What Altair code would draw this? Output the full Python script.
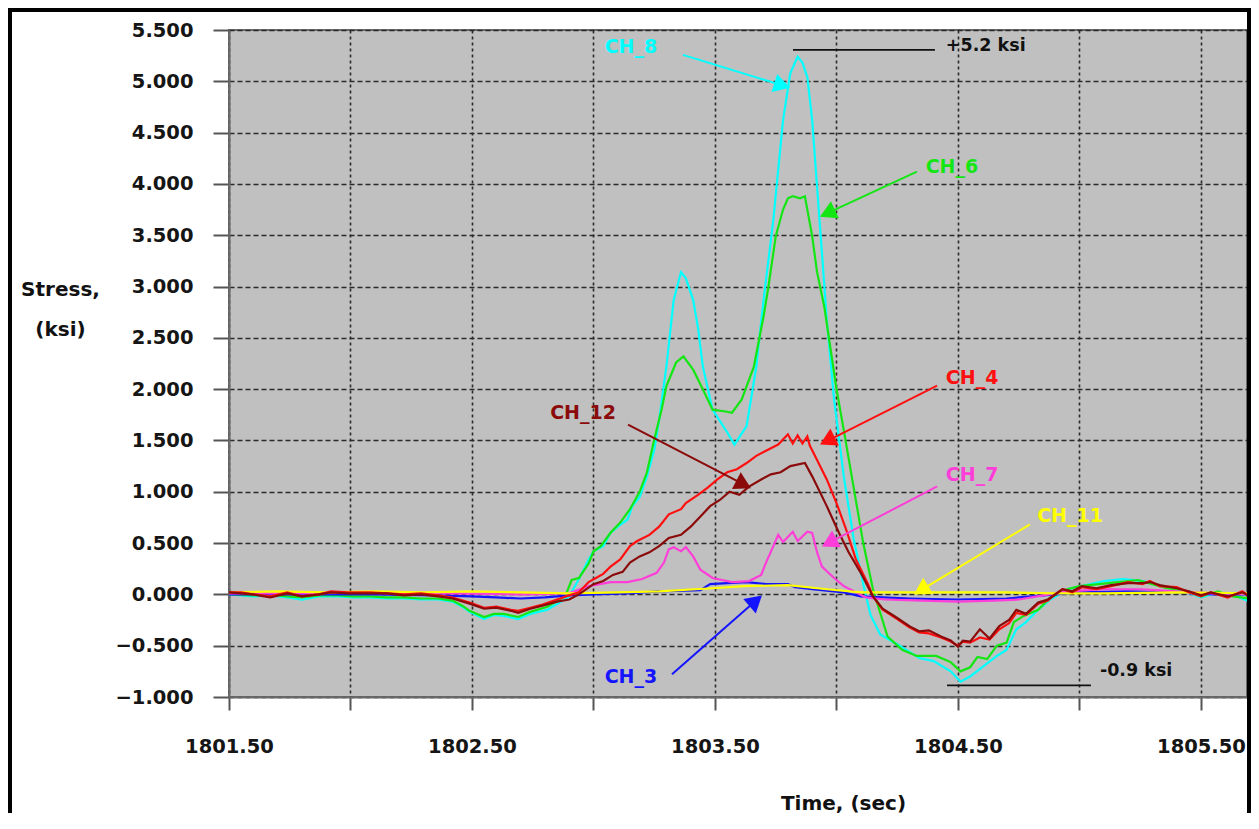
import math
import altair as alt
import pandas as pd

# ---------------- axes ----------------
W, H = 1018, 667
T_MIN = 1801.5
T_MAX = 1801.5 + W / 243.0
V_MIN, V_MAX = -1.0, 5.5

x_ticks = [1801.5, 1802.0, 1802.5, 1803.0, 1803.5, 1804.0, 1804.5, 1805.0, 1805.5]
y_ticks = [-1.0, -0.5, 0.0, 0.5, 1.0, 1.5, 2.0, 2.5, 3.0, 3.5, 4.0, 4.5, 5.0, 5.5]

# ---------------- series (drawing order) ----------------
channels = ["CH_8", "CH_6", "CH_3", "CH_7", "CH_11", "CH_4", "CH_12"]
colors = ["#00FFFF", "#14E614", "#1414FF", "#FF3DD8", "#FFFF00", "#FF1010", "#8B0A0A"]

ch8_t = [1801.50, 1801.60, 1801.67, 1801.74, 1801.80, 1801.87, 1801.95, 1802.01, 1802.08, 1802.15,
         1802.22, 1802.29, 1802.36, 1802.42, 1802.46, 1802.49, 1802.55, 1802.59, 1802.63, 1802.69,
         1802.74, 1802.81, 1802.86, 1802.90, 1802.94, 1802.98, 1803.00, 1803.04, 1803.07, 1803.10,
         1803.14, 1803.16, 1803.19, 1803.22, 1803.25, 1803.27, 1803.30, 1803.33, 1803.36, 1803.38,
         1803.41, 1803.43, 1803.45, 1803.49, 1803.55, 1803.58, 1803.63, 1803.67, 1803.70, 1803.74,
         1803.78, 1803.81, 1803.84, 1803.86, 1803.88, 1803.90, 1803.92, 1803.94, 1803.96, 1803.99,
         1804.03, 1804.07, 1804.11, 1804.14, 1804.18, 1804.26, 1804.34, 1804.40, 1804.47, 1804.51,
         1804.55, 1804.60, 1804.66, 1804.70, 1804.74, 1804.78, 1804.83, 1804.88, 1804.95, 1805.01,
         1805.10, 1805.18, 1805.26, 1805.36, 1805.43, 1805.50, 1805.57, 1805.63, 1805.70, 1805.72]
ch8_v = [0.00, -0.02, -0.01, -0.03, -0.05, -0.02, -0.02, -0.03, -0.03, -0.04,
         -0.04, -0.05, -0.05, -0.07, -0.12, -0.17, -0.24, -0.20, -0.21, -0.24,
         -0.19, -0.15, -0.08, -0.02, 0.15, 0.34, 0.42, 0.47, 0.60, 0.66,
         0.73, 0.86, 0.95, 1.15, 1.41, 1.70, 2.22, 2.87, 3.14, 3.08,
         2.87, 2.60, 2.22, 1.80, 1.58, 1.46, 1.64, 2.22, 2.87, 3.65,
         4.62, 5.08, 5.24, 5.18, 5.04, 4.62, 3.97, 3.33, 2.68, 1.90,
         1.15, 0.55, 0.10, -0.20, -0.39, -0.50, -0.62, -0.65, -0.75, -0.85,
         -0.80, -0.71, -0.60, -0.54, -0.34, -0.27, -0.15, -0.05, 0.05, 0.08,
         0.13, 0.15, 0.13, 0.07, 0.03, -0.03, 0.02, 0.00, -0.07, -0.08]

ch6_t = [1801.50, 1801.60, 1801.67, 1801.74, 1801.80, 1801.87, 1801.95, 1802.01, 1802.08, 1802.15,
         1802.22, 1802.29, 1802.36, 1802.42, 1802.46, 1802.49, 1802.55, 1802.59, 1802.63, 1802.69,
         1802.74, 1802.81, 1802.86, 1802.89, 1802.91, 1802.94, 1802.98, 1803.00, 1803.03, 1803.07,
         1803.11, 1803.15, 1803.19, 1803.22, 1803.25, 1803.28, 1803.30, 1803.34, 1803.37, 1803.41,
         1803.45, 1803.49, 1803.55, 1803.57, 1803.61, 1803.66, 1803.70, 1803.72, 1803.75, 1803.78,
         1803.80, 1803.82, 1803.85, 1803.87, 1803.88, 1803.90, 1803.92, 1803.95, 1804.00, 1804.03,
         1804.07, 1804.11, 1804.15, 1804.18, 1804.21, 1804.27, 1804.33, 1804.41, 1804.47, 1804.51,
         1804.55, 1804.58, 1804.62, 1804.66, 1804.70, 1804.73, 1804.77, 1804.83, 1804.88, 1804.95,
         1805.00, 1805.08, 1805.16, 1805.24, 1805.30, 1805.36, 1805.43, 1805.50, 1805.57, 1805.63,
         1805.70, 1805.72]
ch6_v = [0.00, -0.01, 0.00, -0.02, -0.03, -0.01, -0.01, -0.02, -0.02, -0.03,
         -0.03, -0.04, -0.04, -0.06, -0.11, -0.16, -0.22, -0.19, -0.19, -0.22,
         -0.17, -0.12, -0.05, 0.02, 0.14, 0.16, 0.30, 0.42, 0.47, 0.60,
         0.70, 0.83, 1.00, 1.19, 1.51, 1.80, 2.03, 2.26, 2.32, 2.19,
         2.00, 1.80, 1.78, 1.77, 1.90, 2.22, 2.71, 3.00, 3.49, 3.75,
         3.86, 3.88, 3.86, 3.88, 3.75, 3.49, 3.14, 2.80, 2.00, 1.60,
         1.05, 0.50, 0.05, -0.18, -0.41, -0.54, -0.60, -0.60, -0.66, -0.75,
         -0.71, -0.61, -0.63, -0.50, -0.47, -0.27, -0.21, -0.15, -0.03, 0.05,
         0.08, 0.10, 0.12, 0.14, 0.10, 0.06, 0.04, -0.02, 0.03, -0.02,
         -0.04, -0.05]

ch4_t = [1801.50, 1801.55, 1801.60, 1801.67, 1801.74, 1801.80, 1801.87, 1801.92, 1801.99, 1802.08,
         1802.15, 1802.22, 1802.29, 1802.36, 1802.42, 1802.49, 1802.55, 1802.60, 1802.66, 1802.69,
         1802.74, 1802.79, 1802.85, 1802.90, 1802.94, 1802.98, 1803.01, 1803.04, 1803.07, 1803.11,
         1803.15, 1803.18, 1803.23, 1803.27, 1803.31, 1803.36, 1803.38, 1803.43, 1803.47, 1803.51,
         1803.55, 1803.59, 1803.63, 1803.67, 1803.71, 1803.76, 1803.80, 1803.82, 1803.84, 1803.86,
         1803.88, 1803.89, 1803.92, 1803.96, 1804.00, 1804.04, 1804.08, 1804.13, 1804.15, 1804.19,
         1804.25, 1804.30, 1804.34, 1804.38, 1804.43, 1804.47, 1804.50, 1804.52, 1804.55, 1804.59,
         1804.63, 1804.67, 1804.71, 1804.74, 1804.78, 1804.83, 1804.87, 1804.90, 1804.93, 1804.97,
         1805.01, 1805.07, 1805.13, 1805.20, 1805.26, 1805.29, 1805.33, 1805.40, 1805.45, 1805.50,
         1805.54, 1805.61, 1805.67, 1805.72]
ch4_v = [0.02, 0.02, 0.00, -0.02, 0.02, -0.02, 0.00, 0.03, 0.02, 0.02,
         0.01, 0.00, 0.01, -0.01, -0.03, -0.08, -0.13, -0.12, -0.15, -0.16,
         -0.13, -0.10, -0.05, -0.01, 0.02, 0.12, 0.16, 0.20, 0.27, 0.34,
         0.47, 0.52, 0.58, 0.66, 0.78, 0.83, 0.89, 0.97, 1.04, 1.12,
         1.19, 1.22, 1.28, 1.35, 1.40, 1.46, 1.56, 1.47, 1.55, 1.47,
         1.54, 1.45, 1.31, 1.12, 0.89, 0.63, 0.34, 0.10, -0.02, -0.15,
         -0.24, -0.32, -0.37, -0.38, -0.42, -0.46, -0.50, -0.46, -0.47, -0.42,
         -0.44, -0.34, -0.28, -0.18, -0.20, -0.09, -0.06, 0.00, 0.05, 0.02,
         0.07, 0.05, 0.08, 0.12, 0.10, 0.13, 0.08, 0.07, 0.02, -0.02,
         0.02, -0.03, 0.03, -0.05]

ch12_t = [1801.50, 1801.55, 1801.60, 1801.67, 1801.74, 1801.80, 1801.87, 1801.92, 1801.99, 1802.08,
          1802.15, 1802.22, 1802.29, 1802.36, 1802.42, 1802.49, 1802.55, 1802.60, 1802.66, 1802.69,
          1802.74, 1802.79, 1802.85, 1802.90, 1802.94, 1803.00, 1803.04, 1803.08, 1803.12, 1803.15,
          1803.19, 1803.23, 1803.27, 1803.31, 1803.36, 1803.40, 1803.44, 1803.48, 1803.52, 1803.56,
          1803.60, 1803.64, 1803.69, 1803.73, 1803.77, 1803.81, 1803.87, 1803.90, 1803.96, 1804.01,
          1804.05, 1804.10, 1804.15, 1804.19, 1804.25, 1804.30, 1804.34, 1804.38, 1804.43, 1804.47,
          1804.50, 1804.52, 1804.55, 1804.59, 1804.63, 1804.67, 1804.71, 1804.74, 1804.78, 1804.83,
          1804.87, 1804.90, 1804.93, 1804.97, 1805.01, 1805.07, 1805.13, 1805.20, 1805.26, 1805.29,
          1805.33, 1805.40, 1805.45, 1805.50, 1805.54, 1805.61, 1805.67, 1805.72]
ch12_v = [0.02, 0.01, 0.00, -0.03, 0.01, -0.02, 0.00, 0.02, 0.01, 0.01,
          0.01, -0.01, 0.00, -0.02, -0.04, -0.09, -0.14, -0.13, -0.16, -0.18,
          -0.14, -0.11, -0.07, -0.05, 0.00, 0.10, 0.13, 0.19, 0.22, 0.31,
          0.37, 0.41, 0.47, 0.55, 0.58, 0.66, 0.76, 0.86, 0.92, 1.00,
          0.97, 1.05, 1.12, 1.17, 1.19, 1.25, 1.28, 1.15, 0.86, 0.60,
          0.41, 0.21, -0.02, -0.14, -0.23, -0.31, -0.36, -0.35, -0.41, -0.45,
          -0.51, -0.45, -0.46, -0.34, -0.43, -0.31, -0.25, -0.15, -0.19, -0.08,
          -0.05, 0.00, 0.05, 0.03, 0.08, 0.06, 0.09, 0.11, 0.11, 0.12,
          0.09, 0.06, 0.03, -0.01, 0.02, -0.02, 0.02, -0.04]

ch7_t = [1801.50, 1801.80, 1802.10, 1802.40, 1802.70, 1802.90, 1802.98, 1803.07, 1803.14, 1803.20,
         1803.26, 1803.29, 1803.31, 1803.33, 1803.36, 1803.38, 1803.41, 1803.44, 1803.49, 1803.57,
         1803.64, 1803.69, 1803.71, 1803.74, 1803.76, 1803.78, 1803.82, 1803.84, 1803.88, 1803.90,
         1803.92, 1803.94, 1803.99, 1804.03, 1804.08, 1804.12, 1804.20, 1804.35, 1804.50, 1804.65,
         1804.75, 1804.85, 1804.95, 1805.10, 1805.25, 1805.40, 1805.55, 1805.72]
ch7_v = [0.01, 0.01, 0.02, 0.01, 0.00, 0.01, 0.08, 0.12, 0.12, 0.15,
         0.21, 0.31, 0.44, 0.46, 0.42, 0.46, 0.37, 0.24, 0.16, 0.12,
         0.13, 0.19, 0.31, 0.47, 0.58, 0.51, 0.61, 0.52, 0.61, 0.60,
         0.41, 0.27, 0.16, 0.08, 0.02, -0.03, -0.05, -0.06, -0.07, -0.06,
         -0.05, -0.01, 0.03, 0.05, 0.05, 0.03, 0.01, 0.00]

ch3_t = [1801.50, 1801.80, 1802.10, 1802.35, 1802.50, 1802.60, 1802.70, 1802.80, 1802.90, 1803.00,
         1803.14, 1803.27, 1803.44, 1803.48, 1803.55, 1803.63, 1803.71, 1803.80, 1803.83, 1803.90,
         1804.03, 1804.10, 1804.30, 1804.50, 1804.70, 1804.85, 1805.00, 1805.20, 1805.40, 1805.55,
         1805.72]
ch3_v = [0.00, 0.00, 0.00, -0.01, -0.02, -0.03, -0.04, -0.03, -0.01, 0.00,
         0.01, 0.03, 0.04, 0.10, 0.11, 0.12, 0.10, 0.10, 0.07, 0.05,
         0.02, -0.02, -0.04, -0.05, -0.04, -0.01, 0.02, 0.03, 0.02, 0.00,
         0.00]

ch11_t = [1801.50, 1801.70, 1801.90, 1802.10, 1802.30, 1802.50, 1802.70, 1802.90, 1803.10, 1803.27,
          1803.49, 1803.62, 1803.80, 1803.96, 1804.10, 1804.40, 1804.70, 1804.90, 1805.10, 1805.40,
          1805.72]
ch11_v = [0.02, 0.03, 0.02, 0.03, 0.02, 0.03, 0.02, 0.01, 0.02, 0.03,
          0.06, 0.08, 0.09, 0.05, 0.02, 0.02, 0.02, 0.01, 0.01, 0.02,
          0.01]

series = {
    "CH_8": (ch8_t, ch8_v), "CH_6": (ch6_t, ch6_v), "CH_3": (ch3_t, ch3_v),
    "CH_7": (ch7_t, ch7_v), "CH_11": (ch11_t, ch11_v), "CH_4": (ch4_t, ch4_v),
    "CH_12": (ch12_t, ch12_v),
}

# ---------------- labels and arrows (order = channels) ----------------
lab_t = [1803.154, 1804.475, 1803.154, 1804.558, 1804.961, 1804.558, 1802.957]
lab_v = [5.336, 4.167, -0.808, 1.168, 0.759, 2.113, 1.772]
arr_t0 = [1803.368, 1804.331, 1803.323, 1804.414, 1804.796, 1804.414, 1803.142]
arr_v0 = [5.258, 4.119, -0.779, 1.052, 0.682, 2.035, 1.655]
arr_t1 = [1803.809, 1803.932, 1803.693, 1803.940, 1804.319, 1803.932, 1803.648]
arr_v1 = [4.937, 3.681, -0.010, 0.467, 0.000, 1.461, 1.035]

# peak / valley annotations
ann_text = ["+5.2 ksi", "-0.9 ksi"]
ann_t0 = [1803.821, 1804.455]
ann_t1 = [1804.405, 1805.047]
ann_v = [5.307, -0.886]
ann_tt = [1804.450, 1805.084]
ann_tv = [5.340, -0.750]

# ---------------- styling ----------------
FONT = "DejaVu Sans"
HEAD_SIZE = 360
kx = W / (T_MAX - T_MIN)
ky = H / (V_MAX - V_MIN)
head_h = math.sqrt(3) * (math.sqrt(HEAD_SIZE) / 2) / 2

xscale = alt.Scale(domain=[T_MIN, T_MAX], nice=False, zero=False)
yscale = alt.Scale(domain=[V_MIN, V_MAX], nice=False, zero=False)

xaxis = alt.Axis(
    values=x_ticks,
    labelExpr="(round(datum.value*2) % 2 == 1) ? format(datum.value, '.2f') : ''",
    labelFont=FONT, labelFontSize=19.5, labelFontWeight="bold", labelColor="#151515",
    labelPadding=27, labelFlush=False, labelOverlap=False,
    tickSize=13, tickColor="#555555", tickWidth=2,
    domainColor="#6b6b6b", domainWidth=2,
    grid=True, gridColor="#2a2a2a", gridDash=[3, 3], gridWidth=1.6,
    title="Time, (sec)", titleFont=FONT, titleFontSize=20, titleFontWeight="bold",
    titleColor="#111111", titleAngle=0, titleAlign="center", titleBaseline="alphabetic",
    titleX=614, titleY=112,
)
yaxis = alt.Axis(
    values=y_ticks, format=".3f",
    labelFont=FONT, labelFontSize=19.5, labelFontWeight="bold", labelColor="#151515",
    labelPadding=20, labelFlush=False, labelOverlap=False,
    tickSize=16, tickColor="#555555", tickWidth=2,
    domainColor="#6b6b6b", domainWidth=2,
    grid=True, gridColor="#2a2a2a", gridDash=[5, 3], gridWidth=1.6,
    title=["Stress,", "(ksi)"], titleFont=FONT, titleFontSize=20, titleFontWeight="bold",
    titleColor="#111111", titleAngle=0, titleAlign="center", titleBaseline="alphabetic",
    titleLineHeight=40, titleX=-169, titleY=265,
)


def X(f):
    return alt.X(f, type="quantitative", scale=xscale, axis=xaxis)


def Y(f):
    return alt.Y(f, type="quantitative", scale=yscale, axis=yaxis)


color_scale = alt.Scale(domain=channels, range=colors)

layers = []
for ch, col in zip(channels, colors):
    t, v = series[ch]
    d = pd.DataFrame({"t": t, "v": v})
    layers.append(
        alt.Chart(d).mark_line(color=col, strokeWidth=2.2, clip=True).encode(x=X("t"), y=Y("v"))
    )

# arrows
rows = []
for i, ch in enumerate(channels):
    dx = (arr_t1[i] - arr_t0[i]) * kx
    dy = -(arr_v1[i] - arr_v0[i]) * ky
    L = math.hypot(dx, dy)
    ux, uy = dx / L, dy / L
    ang = math.degrees(math.atan2(dx, -dy)) % 360
    hx = arr_t1[i] - ux * head_h / kx
    hy = arr_v1[i] + uy * head_h / ky
    rows.append({"ch": ch, "tx": lab_t[i], "ty": lab_v[i], "sx": arr_t0[i], "sy": arr_v0[i],
                 "hx": hx, "hy": hy, "ang": ang})
arrows = pd.DataFrame(rows)

col_enc = alt.Color("ch:N", scale=color_scale, legend=None)

arrow_lines = alt.Chart(arrows).mark_rule(strokeWidth=2).encode(
    x=X("sx"), y=Y("sy"), x2=alt.X2("hx"), y2=alt.Y2("hy"), color=col_enc)
arrow_heads = alt.Chart(arrows).mark_point(
    shape="triangle-up", filled=True, size=HEAD_SIZE, opacity=1).encode(
    x=X("hx"), y=Y("hy"), angle=alt.Angle("ang:Q", scale=None), color=col_enc)
labels = alt.Chart(arrows).mark_text(
    font=FONT, fontSize=19, fontWeight="bold", align="center", baseline="middle").encode(
    x=X("tx"), y=Y("ty"), text="ch:N", color=col_enc)

ann = pd.DataFrame({"text": ann_text, "t0": ann_t0, "t1": ann_t1, "v": ann_v,
                    "tt": ann_tt, "tv": ann_tv})
ann_rules = alt.Chart(ann).mark_rule(color="#111111", strokeWidth=1.8).encode(
    x=X("t0"), x2=alt.X2("t1"), y=Y("v"))
ann_texts = alt.Chart(ann).mark_text(
    font=FONT, fontSize=17.5, fontWeight="bold", align="left", baseline="middle",
    color="#111111").encode(x=X("tt"), y=Y("tv"), text="text:N")

# outer frame of the figure (decoration)
frame = alt.Chart(pd.DataFrame({"a": [0]})).mark_rect(
    fillOpacity=0, stroke="black", strokeWidth=4).encode(
    x=alt.value(-219), x2=alt.value(W + 2), y=alt.value(-20), y2=alt.value(900))

chart = alt.layer(
    *layers, arrow_lines, arrow_heads, labels, ann_rules, ann_texts, frame
).properties(
    width=W, height=H,
    background="white",
    autosize=alt.AutoSizeParams(type="none"),
    padding={"left": 221, "top": 22, "right": 4, "bottom": 116},
).configure_view(
    fill="#C0C0C0", stroke="#6b6b6b", strokeWidth=2
)

chart.save("out.html", embed_options={"renderer": "svg", "actions": False})
